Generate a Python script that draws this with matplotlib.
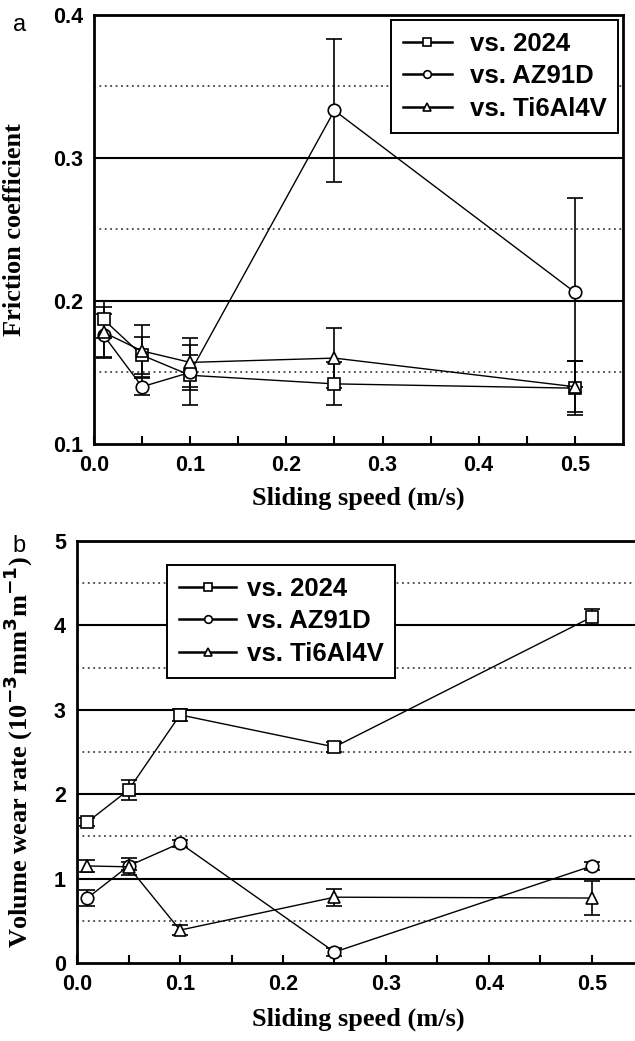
import matplotlib
matplotlib.use("Agg")
import matplotlib.pyplot as plt

speed = [0.01, 0.05, 0.1, 0.25, 0.5]
series_names = ["vs. 2024", "vs. AZ91D", "vs. Ti6Al4V"]
markers = ["s", "o", "^"]

# (a) friction coefficient
fric_2024 = [0.187, 0.162, 0.148, 0.142, 0.139]
fric_2024_err = [0.013, 0.013, 0.021, 0.015, 0.019]
fric_az91d = [0.176, 0.140, 0.150, 0.333, 0.206]
fric_az91d_err = [0.015, 0.006, 0.012, 0.050, 0.066]
fric_ti = [0.178, 0.165, 0.157, 0.160, 0.140]
fric_ti_err = [0.018, 0.018, 0.017, 0.021, 0.018]

# (b) volume wear rate, 1e-3 mm^3/m
wear_2024 = [1.67, 2.05, 2.94, 2.56, 4.10]
wear_2024_err = [0.05, 0.12, 0.07, 0.06, 0.10]
wear_az91d = [0.77, 1.15, 1.42, 0.13, 1.15]
wear_az91d_err = [0.10, 0.05, 0.04, 0.05, 0.05]
wear_ti = [1.15, 1.14, 0.39, 0.78, 0.77]
wear_ti_err = [0.07, 0.10, 0.06, 0.10, 0.20]

SANS = "Liberation Sans"
SERIF = "Liberation Serif"


def style_axes(ax, ylim, yticks, yticklabels, solid, dotted):
    ax.set_xlim(0, 0.55)
    ax.set_ylim(*ylim)
    for y in solid:
        ax.axhline(y, color="black", lw=1.5, zorder=1)
    for y in dotted:
        ax.axhline(y, color="#444444", lw=1.3, ls=(0, (1, 2)), zorder=1)
    ax.set_xticks([0.0, 0.1, 0.2, 0.3, 0.4, 0.5])
    ax.set_xticklabels(["0.0", "0.1", "0.2", "0.3", "0.4", "0.5"])
    ax.set_xticks([0.05, 0.15, 0.25, 0.35, 0.45], minor=True)
    ax.set_yticks(yticks)
    ax.set_yticklabels(yticklabels)
    ax.tick_params(axis="both", direction="in", length=6, width=1.5, labelsize=15.5, pad=8)
    ax.tick_params(axis="x", which="minor", direction="in", length=6, width=1.5)
    ax.tick_params(axis="y", length=0)
    for lab in ax.get_xticklabels() + ax.get_yticklabels():
        lab.set_fontfamily(SANS)
        lab.set_fontweight("bold")
    for s in ax.spines.values():
        s.set_linewidth(2)
    ax.set_xlabel("Sliding speed (m/s)", family=SERIF, weight="bold", fontsize=19)


def draw(ax, values, errors):
    for name, m, y, e in zip(series_names, markers, values, errors):
        ax.errorbar(speed, y, yerr=e, color="black", lw=1, marker=m, ms=9,
                    mfc="white", mec="black", mew=1.2, capsize=5.5, capthick=1.3,
                    elinewidth=1.2, zorder=3, label=name)


def add_legend(ax, handlelength, handletextpad, **kw):
    handles = [plt.Line2D([], [], color="black", lw=1.8, marker=m, ms=5.5, mfc="white",
                          mec="black", mew=1.2) for m in markers]
    leg = ax.legend(handles, series_names, prop={"family": SANS, "weight": "bold", "size": 18.5},
                    frameon=True, fancybox=False, edgecolor="black", framealpha=1,
                    handlelength=handlelength, handletextpad=handletextpad, borderpad=0.45,
                    labelspacing=0.34, borderaxespad=0, **kw)
    leg.get_frame().set_linewidth(1.4)
    return leg


fig = plt.figure(figsize=(6.35, 10.41), dpi=100)

ax1 = fig.add_axes([0.148, 0.5735, 0.833, 0.4125])
style_axes(ax1, (0.1, 0.4), [0.1, 0.2, 0.3, 0.4], ["0.1", "0.2", "0.3", "0.4"],
           [0.2, 0.3], [0.15, 0.25, 0.35])
draw(ax1, [fric_2024, fric_az91d, fric_ti], [fric_2024_err, fric_az91d_err, fric_ti_err])
ax1.set_ylabel("Friction coefficient", family=SERIF, weight="bold", fontsize=19)
ax1.yaxis.set_label_coords(-0.128, 0.5)
ax1.xaxis.set_label_coords(0.5, -0.1)
add_legend(ax1, 1.9, 0.7, loc="upper right", bbox_to_anchor=(0.9905, 0.987))
fig.text(0.02, 0.987, "a", family=SANS, fontsize=17, va="top")

ax2 = fig.add_axes([0.1213, 0.0749, 0.892, 0.4054])
style_axes(ax2, (0, 5), [0, 1, 2, 3, 4, 5], ["0", "1", "2", "3", "4", "5"],
           [1, 2, 3, 4], [0.5, 1.5, 2.5, 3.5, 4.5])
draw(ax2, [wear_2024, wear_az91d, wear_ti], [wear_2024_err, wear_az91d_err, wear_ti_err])
ax2.set_ylabel(r"Volume wear rate (10$^{\mathbf{-3}}$mm$^{\mathbf{3}}$m$^{\mathbf{-1}}$)",
               family=SERIF, weight="bold", fontsize=19)
ax2.yaxis.set_label_coords(-0.075, 0.5)
ax2.xaxis.set_label_coords(0.496, -0.105)
add_legend(ax2, 2.25, 0.4, loc="upper left", bbox_to_anchor=(0.159, 0.943))
fig.text(0.02, 0.486, "b", family=SANS, fontsize=17, va="top")

fig.savefig("out.png", dpi=100)
